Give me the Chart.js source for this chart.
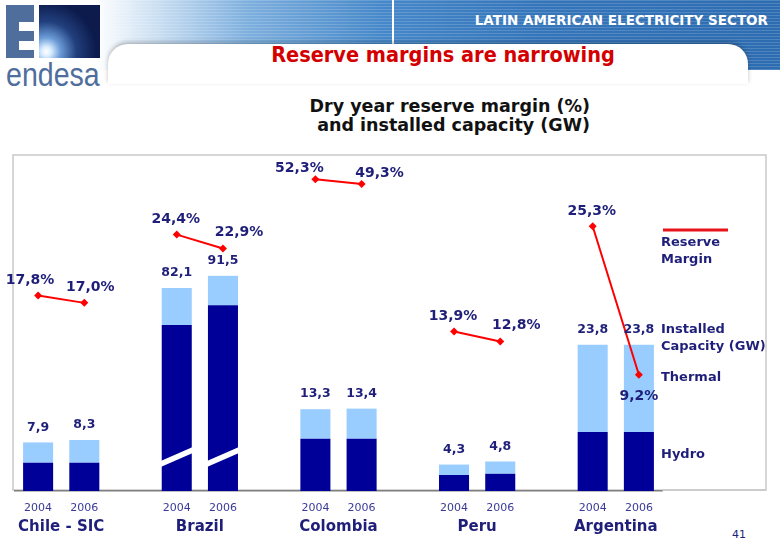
<!DOCTYPE html>
<html>
<head>
<meta charset="utf-8">
<script src="https://cdn.jsdelivr.net/npm/chart.js@4"></script>
<style>
  body { margin: 0; background: #fff; }
  #page { position: relative; width: 780px; height: 540px; overflow: hidden; font-family: 'DejaVu Sans', sans-serif; }
  .abs { position: absolute; }
  .banner { left: 95px; top: 0; width: 685px; height: 70px;
    background: repeating-linear-gradient(180deg, rgba(255,255,255,.16) 0 1px, rgba(255,255,255,0) 1px 3px),
                linear-gradient(90deg, #fff 0%, #d6e6f5 7%, #7fb0de 22%, #4688c9 42%, #3575ba 65%, #2d6cb0 100%); }
  .vline { left: 392px; top: 0; width: 2px; height: 48px; background: #fff; }
  .notch { left: 108px; top: 44px; width: 640px; height: 40px; background: #fff; border-radius: 20px 20px 0 0;
    box-shadow: 0 -2px 4px rgba(0,0,0,.25); }
  .sector { right: 12px; top: 12px; color: #fff; font: bold 13.5px 'DejaVu Sans', sans-serif; }
  .title { left: 0; width: 886px; top: 42px; text-align: center; color: #d40000; font: bold 21.5px 'DejaVu Sans Condensed', sans-serif; }
  .subtitle { right: 190px; top: 97px; text-align: right; color: #111; font: bold 17.5px 'DejaVu Sans', sans-serif; line-height: 19px; }
  .E { left: 6px; top: 5px; width: 28px; height: 53px; background: #4f6e9c; }
  .E i { position: absolute; left: 13px; width: 15px; height: 9px; background: #fff; }
  .sq { left: 39px; top: 5px; width: 61px; height: 53px;
    background: radial-gradient(circle at 12% 88%, #fff 0, #d8ecff 7%, #6a9bd6 20%, #22407e 42%, #0c1b4c 70%); }
  .endesa { left: 6px; top: 55px; color: #4f6e9c; font: 34px 'Liberation Sans Narrow', sans-serif;
    transform: scaleX(0.84); transform-origin: 0 0; }
  .pnum { left: 732px; top: 528px; color: #1f1f7a; font: 11px 'DejaVu Sans', sans-serif; }
  canvas { position: absolute; left: 0; top: 0; }
</style>
</head>
<body>
<div id="page">
  <div class="abs banner"></div>
  <div class="abs vline"></div>
  <div class="abs notch"></div>
  <div class="abs sector">LATIN AMERICAN ELECTRICITY SECTOR</div>
  <div class="abs title">Reserve margins are narrowing</div>
  <div class="abs E"><i style="top:17px"></i><i style="top:36px"></i></div>
  <div class="abs sq"></div>
  <div class="abs endesa">endesa</div>
  <div class="abs subtitle">Dry year reserve margin (%)<br>and installed capacity (GW)</div>
  <div class="abs pnum">41</div>
  <canvas id="chart" width="780" height="540"></canvas>
</div>
<script>
// data
const countries = ['Chile - SIC', 'Brazil', 'Colombia', 'Peru', 'Argentina'];
const years = ['2004', '2006'];
// installed capacity labels (GW)
const capacity = [7.9, 8.3, 82.1, 91.5, 13.3, 13.4, 4.3, 4.8, 23.8, 23.8];
// drawn bar heights (GW); Brazil is shown on a broken axis
const hydro = [4.6, 4.6, 27.0, 30.2, 8.5, 8.5, 2.6, 2.8, 9.6, 9.6];
const thermal = [3.3, 3.7, 6.0, 4.8, 4.8, 4.9, 1.7, 2.0, 14.2, 14.2];
// dry year reserve margin (%)
const reserveMargin = [17.8, 17.0, 24.4, 22.9, 52.3, 49.3, 13.9, 12.8, 25.3, 9.2];
// drawn height of the margin points; Colombia is compressed on the slide
const marginDrawn = [17.8, 17.0, 24.4, 22.9, 30.4, 29.9, 13.9, 12.8, 25.3, 9.2];

const NAVY = '#1f1f7a';

// two bars per country, then an empty slot as gap
const toSlots = arr => {
  const out = [];
  arr.forEach((v, i) => {
    out.push(v);
    if (i % 2 === 1 && i < arr.length - 1) out.push(null);
  });
  return out;
};
const slotLabels = toSlots(countries.flatMap(() => years)).map(v => v || '');
const slotIndex = i => Math.floor(i / 2) * 3 + (i % 2);
const fmt = v => v.toFixed(1).replace('.', ',');

const slidePlugin = {
  id: 'slide',
  beforeDraw(chart) {
    const ctx = chart.ctx;
    ctx.save();
    ctx.strokeStyle = '#c9c9c9';
    ctx.lineWidth = 1.5;
    ctx.strokeRect(13, 155, 753, 335);
    ctx.restore();
  },
  afterDatasetsDraw(chart) {
    const { ctx, chartArea } = chart;
    const hydroMeta = chart.getDatasetMeta(1);
    const thermalMeta = chart.getDatasetMeta(2);
    const lineMeta = chart.getDatasetMeta(0);
    ctx.save();

    // axis break on the Brazil bars
    [2, 3].forEach(i => {
      const bar = hydroMeta.data[slotIndex(i)];
      const l = bar.x - bar.width / 2 - 1, r = bar.x + bar.width / 2 + 1;
      const b = bar.base;
      ctx.fillStyle = '#fff';
      ctx.beginPath();
      ctx.moveTo(l, b - 24);
      ctx.lineTo(r, b - 38);
      ctx.lineTo(r, b - 44);
      ctx.lineTo(l, b - 30);
      ctx.closePath();
      ctx.fill();
    });

    ctx.fillStyle = NAVY;
    ctx.textAlign = 'center';
    ctx.textBaseline = 'middle';

    // installed capacity above bars
    ctx.font = 'bold 12.5px "DejaVu Sans"';
    capacity.forEach((v, i) => {
      const bar = thermalMeta.data[slotIndex(i)];
      ctx.fillText(fmt(v), bar.x, bar.y - 15);
    });

    // reserve margin labels
    ctx.font = 'bold 14px "DejaVu Sans"';
    reserveMargin.forEach((v, i) => {
      const pt = lineMeta.data[slotIndex(i)];
      let dx = i % 2 ? 16 : -1, dy = i % 2 ? -16 : -15;
      if (i === 0) dx = -8;
      if (i === 1) dx = 6;
      if (i === 4) { dx = -16; dy = -11; }
      if (i === 5) { dx = 18; dy = -11; }
      if (i === 9) { dx = 0; dy = 22; }
      ctx.fillText(fmt(v) + '%', pt.x + dx, pt.y + dy);
    });

    // country names under the year ticks
    ctx.font = 'bold 15px "DejaVu Sans"';
    const x = chart.scales.x;
    countries.forEach((c, k) => {
      const cx = (x.getPixelForValue(k * 3) + x.getPixelForValue(k * 3 + 1)) / 2;
      ctx.fillText(c, cx, 527);
    });

    // frame bottom to the right of the axis
    ctx.strokeStyle = '#c9c9c9';
    ctx.lineWidth = 1.5;
    ctx.beginPath();
    ctx.moveTo(chartArea.right, 490);
    ctx.lineTo(766, 490);
    ctx.stroke();

    // legend on the right
    const lx = chartArea.right - 1;
    ctx.strokeStyle = '#e8141a';
    ctx.lineWidth = 3;
    ctx.beginPath();
    ctx.moveTo(lx + 2, 230);
    ctx.lineTo(lx + 67, 230);
    ctx.stroke();
    ctx.textAlign = 'left';
    ctx.font = 'bold 13px "DejaVu Sans"';
    [['Reserve', 243], ['Margin', 260], ['Installed', 330], ['Capacity (GW)', 347],
     ['Thermal', 378], ['Hydro', 455]].forEach(([t, y]) => ctx.fillText(t, lx, y));
    ctx.restore();
  }
};

new Chart(document.getElementById('chart'), {
  data: {
    labels: slotLabels,
    datasets: [
      {
        type: 'line',
        label: 'Reserve Margin',
        data: toSlots(marginDrawn),
        yAxisID: 'y2',
        order: 0,
        borderColor: '#ff0000',
        borderWidth: 2,
        backgroundColor: '#ff0000',
        pointStyle: 'rectRot',
        pointRadius: 4,
        pointBorderWidth: 0,
        spanGaps: false,
        tension: 0
      },
      {
        type: 'bar',
        label: 'Hydro',
        data: toSlots(hydro),
        yAxisID: 'y',
        order: 1,
        backgroundColor: '#000099',
        categoryPercentage: 1,
        barPercentage: 0.65
      },
      {
        type: 'bar',
        label: 'Thermal',
        data: toSlots(thermal),
        yAxisID: 'y',
        order: 1,
        backgroundColor: '#99ccff',
        categoryPercentage: 1,
        barPercentage: 0.65
      }
    ]
  },
  options: {
    responsive: false,
    animation: false,
    devicePixelRatio: 1,
    layout: { padding: { left: 15, right: 118, top: 159, bottom: 0 } },
    plugins: { legend: { display: false }, tooltip: { enabled: false } },
    scales: {
      x: {
        stacked: true,
        grid: { display: false, drawTicks: false },
        border: { display: true, color: '#7f7f7f', width: 1.5 },
        ticks: { autoSkip: false, maxRotation: 0, padding: 11, color: '#3a3a9a', font: { family: 'DejaVu Sans', size: 11 } },
        afterFit(scale) { scale.height = 49; }
      },
      y: { stacked: true, display: false, min: 0, max: 54 },
      y2: { display: false, min: -3.4, max: 32.6 }
    }
  },
  plugins: [slidePlugin]
});
</script>
</body>
</html>
